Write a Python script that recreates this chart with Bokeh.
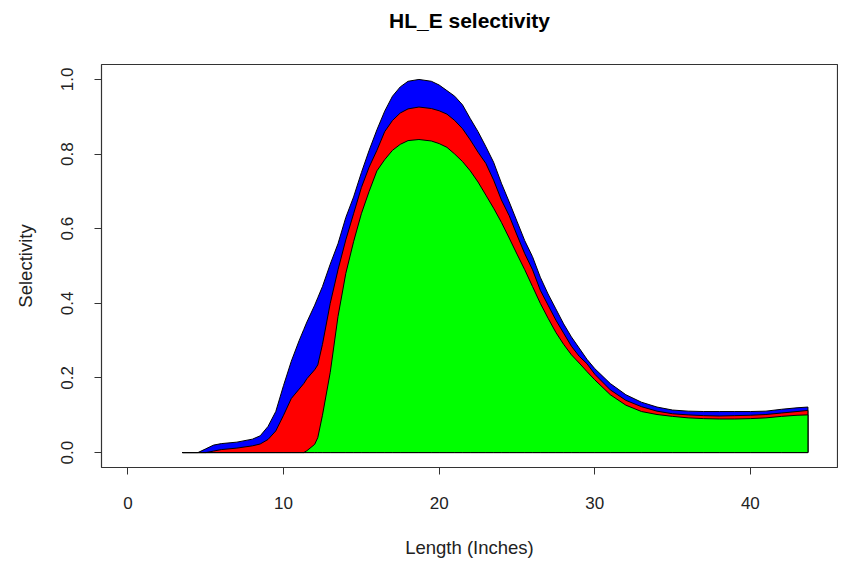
from bokeh.plotting import figure
from bokeh.models import FixedTicker, PrintfTickFormatter, Range1d, Title
from bokeh.embed import file_html
from bokeh.resources import INLINE

# Length (inches)
length_in = [3.5, 4.5, 5.0, 5.5, 6.0, 7.0, 8.0, 8.5, 9.0, 9.5, 10.0, 10.5, 11.0, 11.3, 11.5,
             12.0, 12.2, 12.5, 13.0, 13.5, 14.0, 14.5, 15.0, 15.5, 16.0, 16.5, 17.0, 17.5, 18.0,
             18.7, 19.5, 20.0, 20.5, 21.0, 21.5, 22.0, 22.5, 23.0, 23.5, 24.0, 24.5, 25.0, 25.5,
             26.0, 26.5, 27.0, 27.5, 28.0, 28.5, 29.0, 29.5, 30.0, 31.0, 32.0, 33.0, 34.0, 35.0,
             36.0, 37.0, 38.0, 39.0, 40.0, 41.0, 42.0, 43.0, 43.7]

# Cumulative selectivity: top of blue band (total)
blue_top = [0.0, 0.0, 0.010, 0.020, 0.024, 0.028, 0.036, 0.045, 0.070, 0.110, 0.180, 0.245, 0.300,
            0.330, 0.350, 0.395, 0.415, 0.445, 0.505, 0.560, 0.630, 0.685, 0.750, 0.810, 0.865,
            0.915, 0.955, 0.980, 0.995, 1.000, 0.995, 0.985, 0.970, 0.955, 0.932, 0.895, 0.860,
            0.820, 0.778, 0.722, 0.672, 0.620, 0.568, 0.525, 0.470, 0.425, 0.385, 0.345, 0.310,
            0.280, 0.250, 0.225, 0.185, 0.155, 0.135, 0.122, 0.114, 0.111, 0.110, 0.110, 0.110,
            0.110, 0.111, 0.116, 0.120, 0.122]

# Top of red band
red_top = [0.0, 0.0, 0.0, 0.004, 0.008, 0.012, 0.018, 0.023, 0.035, 0.058, 0.100, 0.145, 0.170,
           0.185, 0.198, 0.222, 0.235, 0.290, 0.400, 0.490, 0.570, 0.640, 0.710, 0.765, 0.810,
           0.860, 0.890, 0.910, 0.921, 0.926, 0.922, 0.916, 0.907, 0.890, 0.868, 0.838, 0.805,
           0.775, 0.730, 0.677, 0.635, 0.583, 0.533, 0.490, 0.435, 0.395, 0.355, 0.320, 0.285,
           0.258, 0.238, 0.210, 0.168, 0.140, 0.123, 0.111, 0.104, 0.101, 0.099, 0.098, 0.099,
           0.100, 0.102, 0.106, 0.110, 0.113]

# Top of green band
green_top = [0.0, 0.0, 0.0, 0.0, 0.0, 0.0, 0.0, 0.0, 0.0, 0.0, 0.0, 0.0, 0.0, 0.0, 0.005,
             0.022, 0.040, 0.100, 0.215, 0.365, 0.480, 0.565, 0.640, 0.700, 0.755, 0.785, 0.810,
             0.826, 0.836, 0.839, 0.835, 0.828, 0.818, 0.800, 0.780, 0.755, 0.725, 0.690, 0.655,
             0.617, 0.575, 0.532, 0.490, 0.445, 0.400, 0.360, 0.322, 0.290, 0.262, 0.240, 0.217,
             0.195, 0.155, 0.127, 0.110, 0.102, 0.097, 0.093, 0.091, 0.090, 0.090, 0.091, 0.093,
             0.097, 0.100, 0.101]

x_ticks = [0, 10, 20, 30, 40]
y_ticks = [0.0, 0.2, 0.4, 0.6, 0.8, 1.0]

FONT = "Liberation Sans"

p = figure(width=838, height=562, output_backend="svg", toolbar_location=None,
           x_range=Range1d(-1.7, 45.6), y_range=Range1d(-0.04, 1.04),
           min_border_left=101, min_border_right=1, min_border_top=64, min_border_bottom=95)
p.title_location = None

# spacer between frame and title, then the title itself (further out)
p.add_layout(Title(text=" ", text_font_size="1px", standoff=28), "above")
p.add_layout(Title(text="HL_E selectivity", align="center", vertical_align="top",
                   standoff=0, offset=-4, text_font=FONT, text_font_size="21px",
                   text_font_style="bold", text_color="#000000"), "above")

p.xgrid.visible = False
p.ygrid.visible = False
p.outline_line_color = "#333333"
p.outline_line_width = 1.2
p.background_fill_color = "white"
p.border_fill_color = "white"

base = [0.0] * len(length_in)
xs = length_in + length_in[::-1]
for top, col in [(blue_top, "#0000FF"), (red_top, "#FF0000"), (green_top, "#00FF00")]:
    p.patch(xs, top + base[::-1], fill_color=col, line_color="#000000", line_width=1)

for ax in (p.xaxis[0], p.yaxis[0]):
    ax.axis_line_color = None
    ax.major_tick_line_color = "#333333"
    ax.major_tick_line_width = 1
    ax.major_tick_out = 7
    ax.major_tick_in = 0
    ax.minor_tick_line_color = None
    ax.major_label_text_font = FONT
    ax.major_label_text_font_size = "17px"
    ax.major_label_text_color = "#222222"
    ax.axis_label_text_font = FONT
    ax.axis_label_text_font_size = "18.5px"
    ax.axis_label_text_font_style = "normal"
    ax.axis_label_text_color = "#222222"

p.xaxis.ticker = FixedTicker(ticks=x_ticks)
p.yaxis.ticker = FixedTicker(ticks=y_ticks)
p.yaxis.formatter = PrintfTickFormatter(format="%.1f")
p.yaxis.major_label_orientation = "vertical"
p.xaxis.axis_label = "Length (Inches)"
p.yaxis.axis_label = "Selectivity"
p.xaxis.major_label_standoff = 22
p.yaxis.major_label_standoff = 21
p.xaxis.axis_label_standoff = 25
p.yaxis.axis_label_standoff = 23

open("out.html", "w").write(file_html(p, INLINE))
